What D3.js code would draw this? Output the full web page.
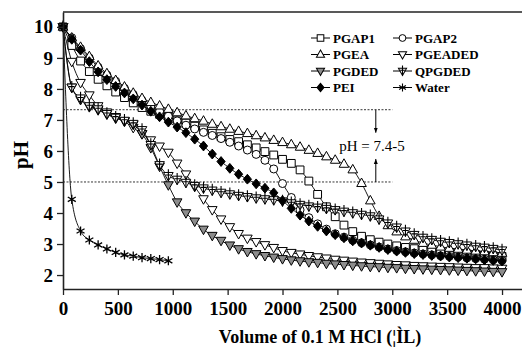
<!DOCTYPE html>
<html>
<head>
<meta charset="utf-8">
<title>pH titration curves</title>
<script src="https://d3js.org/d3.v7.min.js"></script>
<style>
  body { margin: 0; background: #fff; }
  svg text { font-family: "Liberation Serif", "Times New Roman", serif; }
</style>
</head>
<body>
<div id="chart"></div>
<script>
// added HCl volume (uL), one reading every 80 uL
var volume = [0,80,160,240,320,400,480,560,640,720,800,880,960,1040,1120,1200,1280,1360,1440,1520,
  1600,1680,1760,1840,1920,2000,2080,2160,2240,2320,2400,2480,2560,2640,2720,2800,2880,2960,3040,3120,
  3200,3280,3360,3440,3520,3600,3680,3760,3840,3920,4000];
var waterVolume = [0,80,160,240,320,400,480,560,640,720,800,880,960];

// pH readings per sample
var pgap1 = [10,9.4,8.9,8.56,8.31,8.1,7.9,7.72,7.55,7.4,7.28,7.18,7.1,7.0,6.9,6.8,6.68,6.57,6.46,6.37,
  6.3,6.2,6.1,5.98,5.87,5.73,5.6,5.39,5.03,4.6,4.2,3.88,3.61,3.4,3.25,3.14,3.06,3.0,2.94,2.89,
  2.85,2.81,2.78,2.75,2.72,2.7,2.68,2.66,2.64,2.62,2.6];
var pgap2 = [10,9.65,9.3,9.0,8.7,8.45,8.25,8.02,7.82,7.63,7.45,7.28,7.12,6.97,6.83,6.71,6.6,6.5,6.4,6.28,
  6.16,6.03,5.89,5.7,5.42,4.95,4.5,4.1,3.85,3.65,3.48,3.33,3.22,3.12,3.04,2.97,2.9,2.84,2.79,2.75,
  2.71,2.68,2.65,2.62,2.6,2.58,2.55,2.53,2.51,2.49,2.47];
var pgea = [10,9.65,9.35,9.05,8.75,8.5,8.28,8.07,7.87,7.7,7.57,7.46,7.35,7.24,7.14,7.05,6.97,6.87,6.79,6.71,
  6.64,6.57,6.5,6.43,6.35,6.28,6.21,6.13,6.03,5.93,5.82,5.71,5.58,5.4,4.96,4.4,3.9,3.6,3.4,3.24,
  3.13,3.03,2.97,2.91,2.87,2.84,2.81,2.78,2.76,2.73,2.71];
var pgeaded = [10,8.88,8.2,7.8,7.45,7.25,7.1,6.95,6.75,6.55,6.35,6.15,5.95,5.6,5.25,4.85,4.45,4.1,3.8,3.55,
  3.33,3.18,3.07,2.97,2.88,2.78,2.72,2.67,2.62,2.58,2.54,2.5,2.47,2.44,2.41,2.39,2.37,2.35,2.33,2.32,
  2.3,2.29,2.28,2.27,2.26,2.25,2.24,2.23,2.23,2.22,2.21];
var pgded = [10,8.05,7.65,7.42,7.32,7.18,7.05,6.97,6.85,6.55,6.1,5.5,4.9,4.35,4.0,3.73,3.47,3.27,3.11,2.96,
  2.84,2.75,2.68,2.62,2.57,2.52,2.48,2.45,2.42,2.4,2.37,2.35,2.33,2.31,2.29,2.27,2.26,2.24,2.23,2.21,
  2.2,2.19,2.18,2.17,2.16,2.15,2.14,2.13,2.12,2.11,2.1];
var qpgded = [10,8.05,7.7,7.45,7.35,7.2,7.08,6.98,6.88,6.68,6.2,5.55,5.2,5.08,4.98,4.88,4.8,4.73,4.66,4.61,
  4.56,4.52,4.48,4.45,4.42,4.38,4.32,4.27,4.22,4.18,4.14,4.1,4.05,4.0,3.95,3.9,3.8,3.67,3.54,3.41,
  3.3,3.21,3.14,3.08,3.04,3.0,2.96,2.92,2.89,2.85,2.8];
var pei = [10,9.6,9.25,8.88,8.55,8.3,8.08,7.87,7.68,7.48,7.28,7.1,6.93,6.77,6.59,6.38,6.16,5.9,5.66,5.44,
  5.25,5.09,4.94,4.8,4.65,4.4,4.15,3.93,3.74,3.57,3.42,3.3,3.2,3.1,3.03,2.96,2.89,2.82,2.77,2.73,
  2.69,2.66,2.63,2.61,2.58,2.56,2.54,2.52,2.49,2.47,2.45];
var water = [10,4.44,3.42,3.13,2.97,2.84,2.73,2.65,2.61,2.56,2.53,2.5,2.46];

var seriesNames = ["PGAP1","PGAP2","PGEA","PGEADED","PGDED","QPGDED","PEI","Water"];
var xTicks = [0,500,1000,1500,2000,2500,3000,3500,4000];
var yTicks = [2,3,4,5,6,7,8,9,10];
var bandLimits = [7.33, 5];   // dashed guide lines
var bandLabel = "pH = 7.4-5";

var series = [
  {name: seriesNames[0], x: volume, y: pgap1, mark: "square"},
  {name: seriesNames[1], x: volume, y: pgap2, mark: "circle"},
  {name: seriesNames[2], x: volume, y: pgea, mark: "triUp"},
  {name: seriesNames[3], x: volume, y: pgeaded, mark: "triDown"},
  {name: seriesNames[4], x: volume, y: pgded, mark: "triGrey"},
  {name: seriesNames[5], x: volume, y: qpgded, mark: "trident"},
  {name: seriesNames[6], x: volume, y: pei, mark: "diamond"},
  {name: seriesNames[7], x: waterVolume, y: water, mark: "star"}
];

var w = 522, h = 348;
var plotL = 63, plotR = 522, plotT = 12, plotB = 289;

var xScale = d3.scaleLinear().domain([0, 4182]).range([plotL, plotR]);
var yScale = d3.scaleLinear().domain([1.55, 10.48]).range([plotB, plotT]);

var svg = d3.select("#chart").append("svg")
  .attr("width", w)
  .attr("height", h);

// draws one marker of the given kind into g (sc scales it down for the legend)
function marker(g, kind, sc) {
  sc = sc || 1;
  if (kind == "circle") {
    g.append("circle").attr("r", 4 * sc).attr("fill", "#fff").attr("stroke", "#000");
    return;
  }
  if (kind == "star") {
    g.append("path")
      .attr("d", "M0,-4.6V4.6M-4,-2.3L4,2.3M-4,2.3L4,-2.3")
      .attr("transform", "scale(" + sc + ")")
      .attr("stroke", "#000").attr("stroke-width", 1.3).attr("fill", "none");
    return;
  }
  var p = {
    square: "M-3.9,-3.9H3.9V3.9H-3.9Z",
    triUp: "M0,-5.2L4.8,3.3L-4.8,3.3Z",
    triDown: "M0,5.2L4.8,-3.3L-4.8,-3.3Z",
    triGrey: "M0,5.2L4.8,-3.3L-4.8,-3.3Z",
    trident: "M0,5.2L4.8,-3.3L-4.8,-3.3Z",
    diamond: "M0,-4.9L4.1,0L0,4.9L-4.1,0Z"
  };
  var fill = "#fff";
  if (kind == "diamond") fill = "#000";
  if (kind == "triGrey") fill = "#8c8c8c";
  g.append("path").attr("d", p[kind])
    .attr("transform", "scale(" + sc + ")")
    .attr("fill", fill).attr("stroke", "#000").attr("stroke-width", 1 / sc);
  if (kind == "trident") {
    g.append("path").attr("d", "M0,-6.5V5.2M-2.8,-0.8H2.8")
      .attr("transform", "scale(" + sc + ")")
      .attr("stroke", "#000").attr("stroke-width", 1.1 / sc);
  }
}

// dashed guides and arrows
var guideEnd = 3000;
svg.selectAll(".guide")
  .data(bandLimits)
  .enter()
  .append("line")
  .attr("x1", xScale(0))
  .attr("x2", xScale(guideEnd))
  .attr("y1", d => yScale(d))
  .attr("y2", d => yScale(d))
  .attr("stroke", "#000")
  .attr("stroke-width", 0.8)
  .attr("stroke-dasharray", "2,1.5");

var arrowX = xScale(2850);
var defs = svg.append("defs");
defs.append("marker")
  .attr("id", "head")
  .attr("viewBox", "0 0 10 10")
  .attr("refX", 10).attr("refY", 5)
  .attr("markerWidth", 5).attr("markerHeight", 5)
  .attr("orient", "auto")
  .append("path").attr("d", "M0,1L10,5L0,9Z").attr("fill", "#000");

svg.append("line")
  .attr("x1", arrowX).attr("x2", arrowX)
  .attr("y1", yScale(bandLimits[0])).attr("y2", yScale(bandLimits[0]) + 23)
  .attr("stroke", "#000").attr("stroke-width", 1)
  .attr("marker-end", "url(#head)");
svg.append("line")
  .attr("x1", arrowX).attr("x2", arrowX)
  .attr("y1", yScale(bandLimits[1])).attr("y2", yScale(bandLimits[1]) - 23)
  .attr("stroke", "#000").attr("stroke-width", 1)
  .attr("marker-end", "url(#head)");
svg.append("text")
  .attr("x", 372).attr("y", 151)
  .attr("text-anchor", "middle")
  .attr("font-size", "15px")
  .text(bandLabel);

// curves then markers
var line = d3.line().curve(d3.curveMonotoneX);
series.forEach(s => {
  var pts = s.x.map((v, i) => [xScale(v), yScale(s.y[i])]);
  svg.append("path")
    .attr("d", line(pts))
    .attr("fill", "none")
    .attr("stroke", "#000")
    .attr("stroke-width", 0.9);
  pts.forEach(p => {
    var g = svg.append("g").attr("transform", "translate(" + p[0] + "," + p[1] + ")");
    marker(g, s.mark);
  });
});

// axes
var xAxis = d3.axisBottom(xScale).tickValues(xTicks).tickFormat(d3.format("d"))
  .tickSize(6).tickSizeOuter(0).tickPadding(7);
var yAxis = d3.axisLeft(yScale).tickValues(yTicks).tickFormat(d3.format("d"))
  .tickSize(6).tickSizeOuter(0).tickPadding(4);

var gx = svg.append("g").attr("transform", "translate(0," + plotB + ")").call(xAxis);
var gy = svg.append("g").attr("transform", "translate(" + plotL + ",0)").call(yAxis);
[gx, gy].forEach(g => {
  g.select(".domain").attr("stroke", "#222").attr("stroke-width", 1.6);
  g.selectAll(".tick line").attr("stroke", "#222").attr("stroke-width", 1.3);
  g.selectAll(".tick text")
    .attr("fill", "#000")
    .style("font-family", "'Liberation Serif', serif")
    .style("font-weight", "bold")
    .style("font-size", "19px");
});

// top frame line
svg.append("line")
  .attr("x1", plotL).attr("x2", plotR)
  .attr("y1", plotT).attr("y2", plotT)
  .attr("stroke", "#222").attr("stroke-width", 1.6);

svg.append("text")
  .attr("transform", "translate(28,155) rotate(-90)")
  .attr("text-anchor", "middle")
  .attr("font-size", "21px")
  .attr("font-weight", "bold")
  .text("pH");

svg.append("text")
  .attr("x", 320).attr("y", 343)
  .attr("text-anchor", "middle")
  .attr("font-size", "18px")
  .attr("font-weight", "bold")
  .text("Volume of 0.1 M HCl (\u00a6\u00ccL)");

// legend, two columns
var legCols = [311, 393];
var legRows = [38, 54.5, 71, 87.5];
var leg = svg.selectAll(".leg")
  .data(series)
  .enter()
  .append("g")
  .attr("transform", (d, i) => "translate(" + legCols[i % 2] + "," + legRows[Math.floor(i / 2)] + ")");
leg.append("line")
  .attr("x1", 0).attr("x2", 19)
  .attr("stroke", "#000").attr("stroke-width", 1);
leg.each(function(d) {
  var g = d3.select(this).append("g").attr("transform", "translate(9.5,0)");
  marker(g, d.mark, 0.85);
});
leg.append("text")
  .attr("x", 22).attr("y", 4.5)
  .attr("font-size", "13px")
  .attr("font-weight", "bold")
  .text(d => d.name);
</script>
</body>
</html>
